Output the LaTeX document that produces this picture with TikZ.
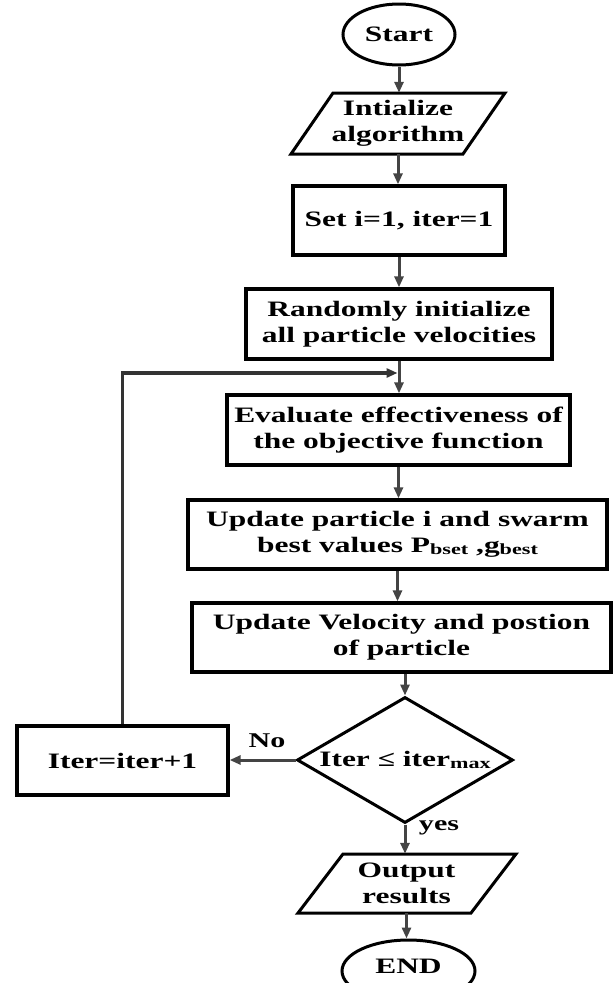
\documentclass[tikz,border=0pt]{standalone}
\usepackage{fontspec}
\setmainfont{Liberation Serif}[FakeStretch=1.43]
\usetikzlibrary{arrows.meta,shapes.geometric,calc}
\definecolor{arrowgray}{HTML}{444444}
\newcommand{\smallsub}[1]{\raisebox{-1.5pt}{\fontsize{15.5}{15.5}\selectfont #1}}
\tikzset{
  txt/.style={inner sep=0pt, align=center, font=\bfseries\fontsize{22}{26}\selectfont},
  box/.style={txt, draw=black, line width=3.3pt, rectangle},
  term/.style={txt, draw=black, line width=3pt, ellipse},
  cond/.style={txt, draw=black, line width=3pt, diamond},
  para/.style={draw=black, line width=3pt, line join=miter},
  arr/.style={draw=arrowgray, line width=3pt, -{Triangle[length=11pt,width=9pt]}},
  fbarr/.style={draw=black!80, line width=3.2pt, line join=miter, -{Triangle[length=11pt,width=9pt]}},
  lbl/.style={inner sep=0pt, font=\bfseries\fontsize{21}{24}\selectfont}
}
\begin{document}
\begin{tikzpicture}[x=1pt,y=-1pt]
\useasboundingbox (0,0) rectangle (616,983);
\clip (0,0) rectangle (616,983);

% nodes
\node[term, minimum width=112pt, minimum height=61pt] (start) at (399,34.5) {Start};
\node[txt, minimum width=172pt, minimum height=61pt] (init) at (398,123.5) {Intialize\\algorithm};
\draw[para] ($(init.center)+(-65,-30.5)$) -- ++(172,0) -- ++(-42,61) -- ++(-172,0) -- cycle;
\node[box, minimum width=212pt, minimum height=69pt] (set) at (399,220.5) {Set i=1, iter=1};
\node[box, minimum width=306pt, minimum height=70pt] (rand) at (399,324) {Randomly initialize\\all particle velocities};
\node[box, minimum width=343pt, minimum height=70pt] (eval) at (398.5,430) {Evaluate effectiveness of\\the objective function};
\node[box, minimum width=419pt, minimum height=69pt] (upd) at (397.5,534.5) {Update particle i and swarm\\best values P\smallsub{bset} ,g\smallsub{best}};
\node[box, minimum width=419pt, minimum height=69pt] (vel) at (401.5,637.5) {Update Velocity and postion\\of particle};
\node[cond, minimum width=216pt, minimum height=126pt, aspect=1.714] (dec) at (405,760) {\makebox[0pt]{Iter ≤ iter\smallsub{max}}};
\node[box, minimum width=211pt, minimum height=69pt] (inc) at (122.5,760.5) {Iter=iter+1};
\node[txt, minimum width=173pt, minimum height=59pt] (out) at (406.5,883.5) {Output\\results};
\draw[para] ($(out.center)+(-63.5,-29.5)$) -- ++(173,0) -- ++(-45,59) -- ++(-173,0) -- cycle;
\node[term, minimum width=133pt, minimum height=62pt] (end) at (408.5,971) {};
\node[txt] (endtxt) at (408.5,966) {END};

% labels
\node[lbl] (nolbl) at (267,741) {No};
\node[lbl] (yeslbl) at (439,828) {yes};

% connectors
\draw[arr] (start.south) -- (start.south |- init.north);
\draw[arr] (init.south) -- (init.south |- set.north);
\draw[arr] (set.south) -- (set.south |- rand.north);
\draw[arr] (rand.south) -- (rand.south |- eval.north);
\draw[arr] (eval.south) -- (eval.south |- upd.north);
\draw[arr] (upd.south) -- (upd.south |- vel.north);
\draw[arr] (dec.north |- vel.south) -- (dec.north);
\draw[arr] (dec.south) -- (dec.south |- out.north);
\draw[arr] (out.south) -- (out.south |- end.north);
\draw[arr] (dec.west) -- (dec.west -| inc.east);
\coordinate (join) at ($(rand.south |- 0,373)+(-1.5,0)$);
\draw[fbarr] (inc.north) |- (join);
\end{tikzpicture}
\end{document}
